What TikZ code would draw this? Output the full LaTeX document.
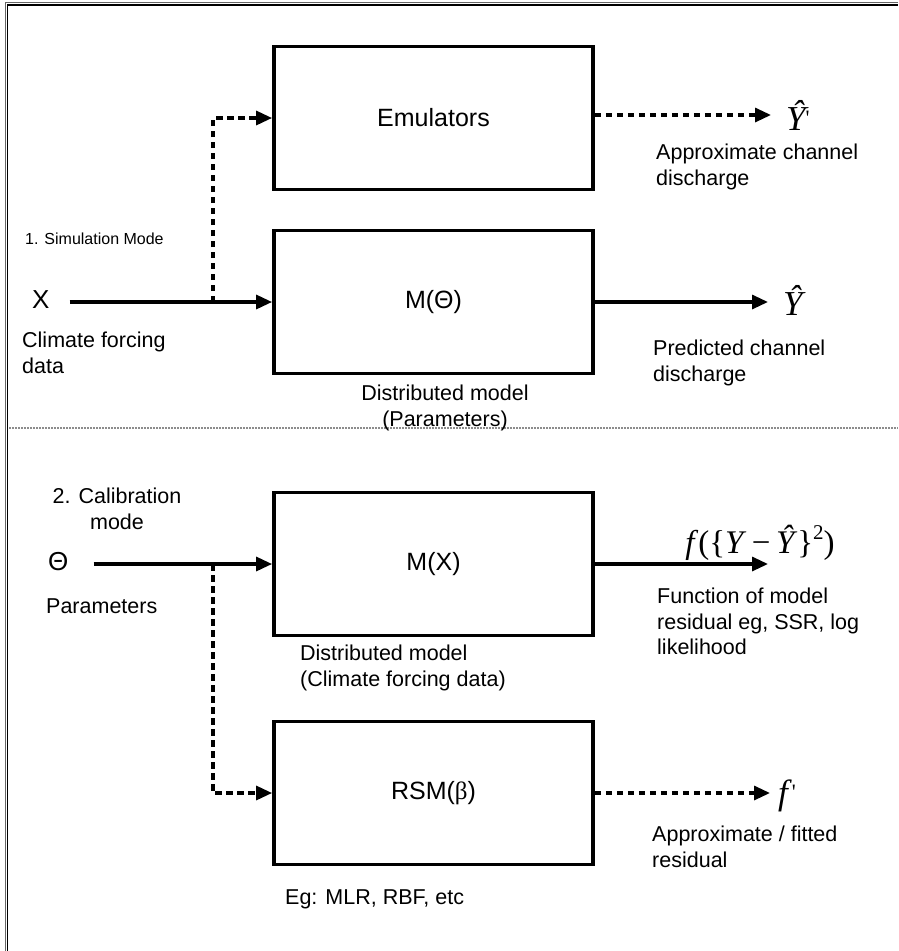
\documentclass[tikz,border=0pt]{standalone}
\usepackage{fontspec}
\setmainfont{Liberation Sans}
\newfontfamily\tnr{Liberation Serif}
\usetikzlibrary{arrows.meta}

\begin{document}
\begin{tikzpicture}[x=1pt,y=-1pt,
  blk/.style={draw, line width=3.8pt, minimum width=319pt, minimum height=143pt,
              inner sep=0pt, font=\fontsize{25}{30}\selectfont},
  flow/.style={line width=3.2pt, -{Triangle[length=16pt,width=14pt]}},
  dflow/.style={flow, dash pattern=on 6.5pt off 4.5pt},
  lbl/.style={inner sep=0pt, align=left, font=\fontsize{21.5}{25.5}\selectfont},
  sym/.style={inner sep=0pt, font=\fontsize{26}{30}\selectfont},
  mth/.style={inner sep=0pt, font=\tnr\fontsize{35}{38}\selectfont}]

% page area
\useasboundingbox (0,0) rectangle (898,951);

% outer frame (top and left edges only)
\draw[line width=1.3pt, black!60] (5.5,951) -- (5.5,2.8) -- (898,2.8);
\draw[line width=1.5pt, black] (7.5,951) -- (7.5,4.8) -- (898,4.8);

% separator between the two modes
\draw[line width=1.6pt, black!45, dash pattern=on 2pt off 1pt] (9,428) -- (898,428);

% ---------- 1. Simulation mode ----------
\node[blk] (emu) at (433.5,118) {Emulators};
\node[blk] (mt)  at (433.5,302) {M(Θ)};

\node[sym, anchor=west] (x) at (32,300) {X};
\coordinate (j1) at (213,302);
\draw[flow] ([xshift=20pt]x.east |- mt.west) -- (mt.west);
\draw[dflow] (j1) |- (emu.west);

\node[mth, anchor=west] (yhatp) at (786,115) {\itshape Ŷ\raisebox{0.14em}{\fontsize{22}{22}\selectfont\upshape\textquotesingle}};
\node[mth, anchor=west] (yhat) at (783,300) {\itshape Ŷ};
\draw[dflow] (emu.east |- yhatp.west) -- ([xshift=-15pt]yhatp.west);
\draw[flow] (mt.east) -- ([xshift=-15pt]yhat.west |- mt.east);

\node[inner sep=0pt, anchor=north west, font=\fontsize{16}{19}\selectfont] (simmode) at (25,233) {1. Simulation Mode};
\node[lbl, anchor=north west] (xlab) at (22,332) {Climate forcing\\data};
\node[lbl, anchor=north west] (alab) at (656,144) {Approximate channel\\discharge};
\node[lbl, anchor=north west] (plab) at (653,340) {Predicted channel\\discharge};
\node[lbl, anchor=north, align=center] (dm1) at (445,385) {Distributed model\\(Parameters)};

% ---------- 2. Calibration mode ----------
\node[blk] (mx)  at (433.5,564) {M(X)};
\node[blk] (rsm) at (433.5,793) {RSM({\tnr β})};

\node[sym, anchor=west] (th) at (48,562) {Θ};
\coordinate (j2) at (213,564);
\draw[flow] ([xshift=25pt]th.east |- mx.west) -- (mx.west);
\draw[dflow] (j2) |- (rsm.west);

\node[inner sep=0pt, anchor=center, font=\tnr\fontsize{33}{36}\selectfont] (fres) at (760,543)
  {\itshape f\/\upshape (\{\itshape Y\/\upshape\,−\,\itshape Ŷ\/\upshape\}\raisebox{0.42em}{\fontsize{21}{21}\selectfont 2})};
\node[inner sep=0pt, anchor=west, font=\tnr\fontsize{35}{38}\selectfont] (fprime) at (778,796)
  {\itshape f\/\raisebox{0.14em}{\fontsize{22}{22}\selectfont\upshape\textquotesingle}};
\draw[flow] (mx.east) -- (768,564);
\draw[dflow] (rsm.east) -- ([xshift=-8pt]fprime.west |- rsm.east);

\node[lbl, anchor=north, align=center] (calmode) at (117,488) {2. Calibration\\mode};
\node[lbl, anchor=north west] (thlab) at (46,598) {Parameters};
\node[lbl, anchor=north west] (flab) at (657,588) {Function of model\\residual eg, SSR, log\\likelihood};
\node[lbl, anchor=north west] (dm2) at (300,645) {Distributed model\\(Climate forcing data)};
\node[lbl, anchor=north west] (rlab) at (652,826) {Approximate / fitted\\residual};
\node[lbl, anchor=north west] (eg) at (285,889) {Eg: MLR, RBF, etc};
\end{tikzpicture}
\end{document}
